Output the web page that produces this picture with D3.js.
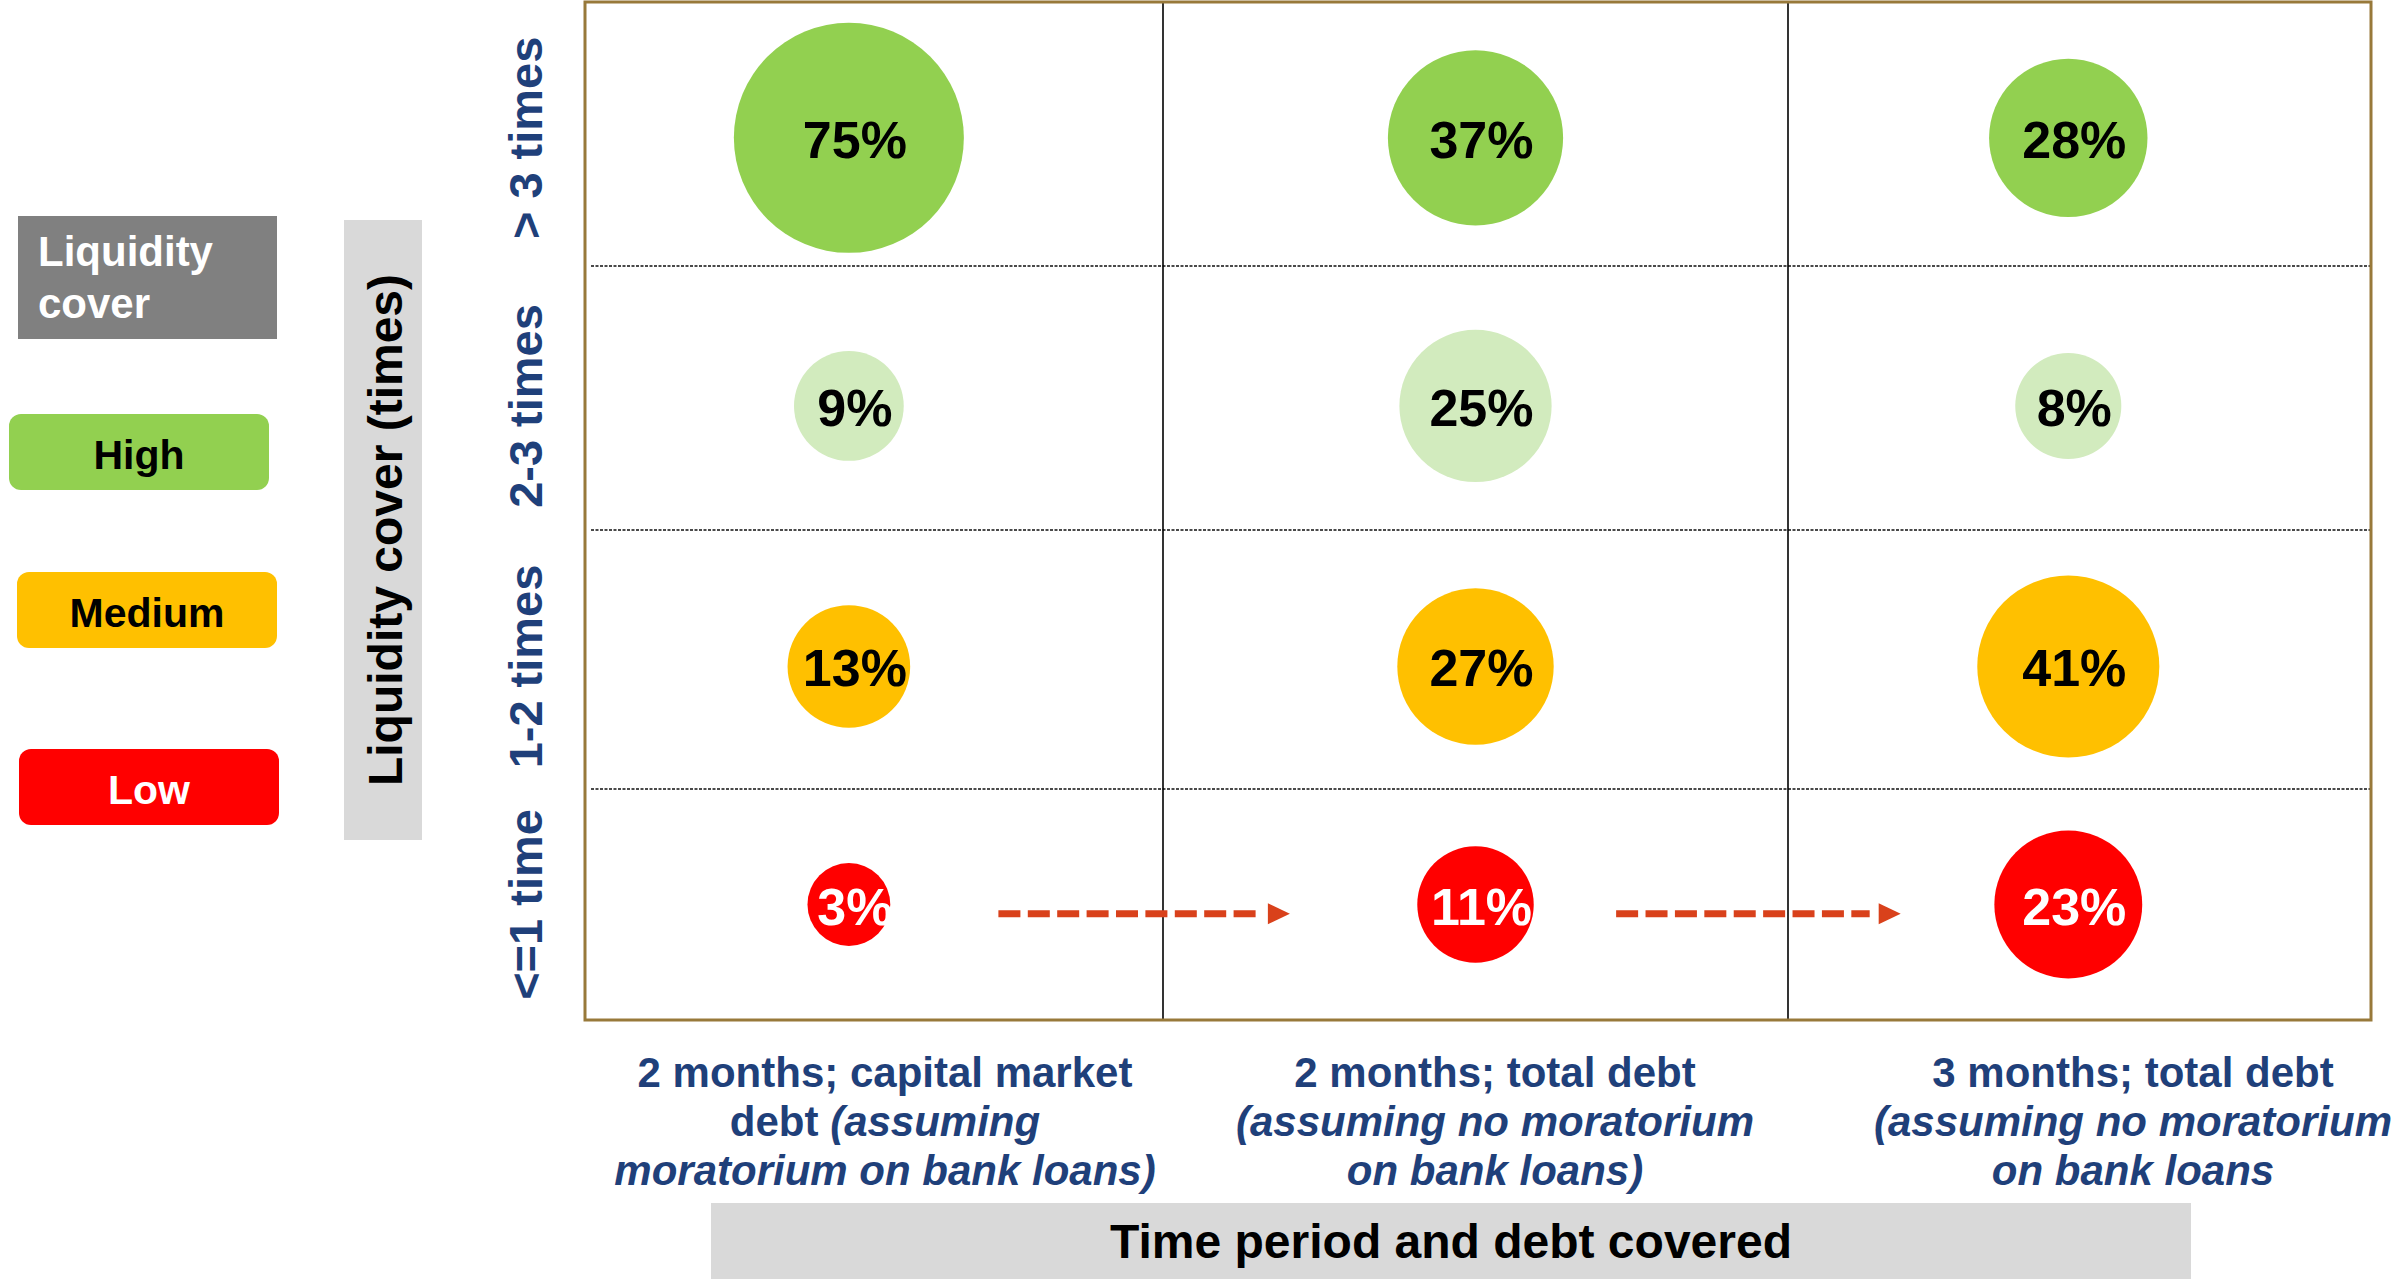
<!DOCTYPE html>
<html>
<head>
<meta charset="utf-8">
<script src="https://cdn.jsdelivr.net/npm/d3@7"></script>
<style>
  body { margin: 0; background: #fff; }
  text { font-family: "Liberation Sans", Arial, sans-serif; font-weight: bold; }
</style>
</head>
<body>
<div id="chart"></div>
<script>
// liquidity cover rows, bottom to top
var rows = ["<=1 time", "1-2 times", "2-3 times", "> 3 times"];
var rowColors = ["#FF0000", "#FFC000", "#D2EBBE", "#92D050"];
var rowTextColors = ["#FFFFFF", "#000000", "#000000", "#000000"];

// share of companies (%) in each cover row, bottom to top
var share2mCapital = [3, 13, 9, 75];
var share2mTotal = [11, 27, 25, 37];
var share3mTotal = [23, 41, 8, 28];
var series = [share2mCapital, share2mTotal, share3mTotal];

// column labels, one entry per line, italic parts flagged
var colLabels = [
  [[["2 months; capital market", false]], [["debt ", false], ["(assuming", true]], [["moratorium on bank loans)", true]]],
  [[["2 months; total debt", false]], [["(assuming no moratorium", true]], [["on bank loans)", true]]],
  [[["3 months; total debt", false]], [["(assuming no moratorium", true]], [["on bank loans", true]]]
];

var legendNames = ["High", "Medium", "Low"];
var legendColors = ["#92D050", "#FFC000", "#FF0000"];
var legendTextColors = ["#000000", "#000000", "#FFFFFF"];

function init(){

  var w = 2397, h = 1279;
  var blue = "#1F407A";

  var svg = d3.select("#chart")
              .append("svg")
                .attr("width", w)
                .attr("height", h);

  //column position scale (columns are not equal width), breakpoints = grid lines
  var xScale = d3.scaleLinear()
        .domain([0.58, 1.5, 2.5, 3.54])
        .range([585, 1163, 1788, 2371]);

  //row position scale, breakpoints = grid lines
  var yScale = d3.scaleLinear()
        .domain([4.53, 3.5, 2.557, 1.5, 0.5])
        .range([2, 266, 530, 789, 1020]);

  //bubble size
  var rScale = d3.scaleSqrt()
        .domain([0, 75])
        .range([23, 115]);

  //text boxes under the grid
  var labelScale = d3.scaleLinear()
        .domain([1, 2, 3])
        .range([885, 1495, 2133]);

  var xd = xScale.domain(), yd = yScale.domain();
  var x0 = xScale.range()[0], x1 = xScale.range()[3];
  var y0 = yScale.range()[0], y1 = yScale.range()[4];

  //row dividers (dotted)
  svg.selectAll(".rowline")
    .data(yd.slice(1, 4))
    .enter()
    .append("line")
      .attr("x1", x0 + 6)
      .attr("x2", x1)
      .attr("y1", function(d){ return yScale(d); })
      .attr("y2", function(d){ return yScale(d); })
      .attr("stroke", "#4a4a4a")
      .attr("stroke-width", 2)
      .attr("stroke-dasharray", "3,1.5");

  //column dividers
  svg.selectAll(".colline")
    .data(xd.slice(1, 3))
    .enter()
    .append("line")
      .attr("x1", function(d){ return xScale(d); })
      .attr("x2", function(d){ return xScale(d); })
      .attr("y1", y0)
      .attr("y2", y1)
      .attr("stroke", "#000")
      .attr("stroke-width", 1.6);

  //outer frame
  svg.append("rect")
    .attr("x", x0)
    .attr("y", y0)
    .attr("width", x1 - x0)
    .attr("height", y1 - y0)
    .attr("fill", "none")
    .attr("stroke", "#98793A")
    .attr("stroke-width", 3);

  //flatten bubbles
  var bubbles = [];
  series.forEach(function(s, c){
    s.forEach(function(v, r){
      bubbles.push({col: c + 1, row: r + 1, value: v});
    });
  });

  //labels are clipped to the bubble box (as in the original, 3% gets cut)
  var defs = svg.append("defs");
  defs.selectAll("clipPath")
    .data(bubbles)
    .enter()
    .append("clipPath")
      .attr("id", function(d, i){ return "clip" + i; })
    .append("rect")
      .attr("x", function(d){ return xScale(d.col) - rScale(d.value); })
      .attr("y", function(d){ return yScale(d.row) - rScale(d.value); })
      .attr("width", function(d){ return 2 * rScale(d.value); })
      .attr("height", function(d){ return 2 * rScale(d.value); });

  svg.selectAll(".bubble")
    .data(bubbles)
    .enter()
    .append("circle")
      .attr("cx", function(d){ return xScale(d.col); })
      .attr("cy", function(d){ return yScale(d.row); })
      .attr("r", function(d){ return rScale(d.value); })
      .attr("fill", function(d){ return rowColors[d.row - 1]; });

  svg.selectAll(".blabel")
    .data(bubbles)
    .enter()
    .append("text")
      .attr("clip-path", function(d, i){ return "url(#clip" + i + ")"; })
      .attr("x", function(d){ return xScale(d.col) + 6; })
      .attr("y", function(d){ return yScale(d.row) + 20; })
      .attr("text-anchor", "middle")
      .style("font-size", "52px")
      .attr("fill", function(d){ return rowTextColors[d.row - 1]; })
      .text(function(d){ return d.value + "%"; });

  //dashed arrows between columns
  var arrows = [[1.238, 1.703], [2.225, 2.701]];
  var arrowY = yScale(0.96);
  var arrowColor = "#D9411B";
  arrows.forEach(function(a){
    var xs = xScale(a[0]), xe = xScale(a[1]);
    svg.append("line")
      .attr("x1", xs)
      .attr("x2", xe - 31)
      .attr("y1", arrowY)
      .attr("y2", arrowY)
      .attr("stroke", arrowColor)
      .attr("stroke-width", 7)
      .attr("stroke-dasharray", "22,7.4");
    svg.append("path")
      .attr("d", "M" + (xe - 22) + "," + (arrowY - 10.5) + "L" + xe + "," + arrowY + "L" + (xe - 22) + "," + (arrowY + 10.5) + "Z")
      .attr("fill", arrowColor);
  });

  //row labels (rotated)
  svg.selectAll(".rowlabel")
    .data(rows)
    .enter()
    .append("text")
      .attr("transform", function(d, i){ return "translate(542," + yScale(i + 1) + ") rotate(-90)"; })
      .attr("text-anchor", "middle")
      .style("font-size", "47px")
      .attr("fill", blue)
      .text(function(d){ return d; });

  //y axis title
  svg.append("rect")
    .attr("x", 344)
    .attr("y", 220)
    .attr("width", 78)
    .attr("height", 620)
    .attr("fill", "#D9D9D9");

  svg.append("text")
    .attr("transform", "translate(402,530) rotate(-90)")
    .attr("text-anchor", "middle")
    .style("font-size", "48px")
    .attr("fill", "#000")
    .text("Liquidity cover (times)");

  //column labels
  var baselines = [1087, 1136, 1185];
  colLabels.forEach(function(lines, c){
    lines.forEach(function(parts, l){
      var t = svg.append("text")
        .attr("x", labelScale(c + 1))
        .attr("y", baselines[l])
        .attr("text-anchor", "middle")
        .style("font-size", "42px")
        .attr("fill", blue);
      parts.forEach(function(p){
        t.append("tspan")
          .style("font-style", p[1] ? "italic" : "normal")
          .text(p[0]);
      });
    });
  });

  //x axis title
  svg.append("rect")
    .attr("x", 711)
    .attr("y", 1203)
    .attr("width", 1480)
    .attr("height", 76)
    .attr("fill", "#D9D9D9");

  svg.append("text")
    .attr("x", 1451)
    .attr("y", 1258)
    .attr("text-anchor", "middle")
    .style("font-size", "48px")
    .attr("fill", "#000")
    .text("Time period and debt covered");

  //legend header
  svg.append("rect")
    .attr("x", 18)
    .attr("y", 216)
    .attr("width", 259)
    .attr("height", 123)
    .attr("fill", "#808080");

  svg.selectAll(".lhead")
    .data(["Liquidity", "cover"])
    .enter()
    .append("text")
      .attr("x", 38)
      .attr("y", function(d, i){ return 266 + i * 52; })
      .style("font-size", "42px")
      .attr("fill", "#fff")
      .text(function(d){ return d; });

  //legend items
  var legendTops = [414, 572, 749];
  var legendLeft = [9, 17, 19];
  var legend = svg.selectAll(".legend")
    .data(legendNames)
    .enter()
    .append("g")
      .attr("transform", function(d, i){ return "translate(" + legendLeft[i] + "," + legendTops[i] + ")"; });

  legend.append("rect")
    .attr("width", 260)
    .attr("height", 76)
    .attr("rx", 12)
    .attr("fill", function(d, i){ return legendColors[i]; });

  legend.append("text")
    .attr("x", 130)
    .attr("y", 55)
    .attr("text-anchor", "middle")
    .style("font-size", "41px")
    .attr("fill", function(d, i){ return legendTextColors[i]; })
    .text(function(d){ return d; });
}

window.onload = init;
</script>
</body>
</html>
